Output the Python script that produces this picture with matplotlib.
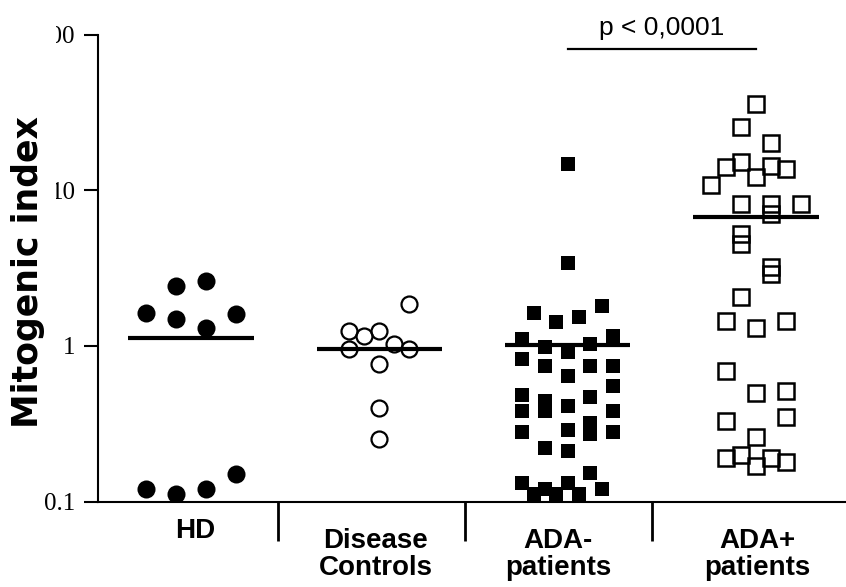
import numpy as np
import matplotlib
matplotlib.use('Agg')
import matplotlib.pyplot as plt
from matplotlib.ticker import NullLocator
from matplotlib.patches import Rectangle
import matplotlib.transforms as mtransforms

# group names
groups = ['HD', 'Disease\nControls', 'ADA-\npatients', 'ADA+\npatients']

# mitogenic index values, with column slot inside each group
hd_vals = [2.44, 2.59, 1.62, 1.48, 1.31, 1.59, 0.120, 0.111, 0.120, 0.151]
hd_cols = [-1, 1, -3, -1, 1, 3, -3, -1, 1, 3]

dc_vals = [1.86, 1.24, 1.15, 1.24, 0.96, 1.02, 0.95, 0.77, 0.40, 0.252]
dc_cols = [2, -2, -1, 0, -2, 1, 2, 0, 0, 0]

adaneg_vals = [14.7, 3.42, 1.62, 1.42, 1.54, 1.81, 1.11, 0.98, 0.91, 1.03, 1.15,
               0.82, 0.74, 0.64, 0.74, 0.74, 0.556, 0.48, 0.47, 0.38, 0.445, 0.38,
               0.41, 0.38, 0.32, 0.27, 0.28, 0.29, 0.28, 0.22, 0.21, 0.152, 0.131,
               0.12, 0.12, 0.131, 0.112, 0.112, 0.112]
adaneg_cols = [0, 0, -3, -1, 1, 3, -4, -2, 0, 2, 4,
               -4, -2, 0, 2, 4, 4, -4, 2, -4, -2, -2,
               0, 4, 2, 2, -4, 0, 4, -2, 0, 2, -4,
               3, -2, 0, -3, -1, 1]

adapos_vals = [35.6, 25.5, 20.2, 15.2, 14.1, 14.4, 13.7, 12.1, 10.8, 8.1, 8.1, 7.0,
               8.2, 5.2, 4.5, 3.2, 2.9, 2.05, 1.44, 1.31, 1.44, 0.69, 0.50, 0.515,
               0.33, 0.35, 0.26, 0.19, 0.20, 0.19, 0.17, 0.18]
adapos_cols = [0, -1, 1, -1, -2, 1, 2, 0, -3, -1, 1, 1,
               3, -1, -1, 1, 1, -1, -2, 0, 2, -2, 0, 2,
               -2, 2, 0, -2, -1, 1, 0, 2]

medians = [1.13, 0.956, 1.01, 6.7]
p_text = 'p < 0,0001'

# layout of the group labels (x in group units, top in axes fraction)
label_x = [0.02, 0.98, 1.95, 3.005]
label_top = [-0.036, -0.057, -0.057, -0.057]

fig = plt.figure(figsize=(8.46, 5.87), dpi=100)
ax = fig.add_axes([97.7/846, 1-501.5/587, 1-97.7/846, 467/587])

ax.set_yscale('log')
ax.set_ylim(0.1, 100)
ax.set_xlim(-0.4955, 3.478)

step = 0.0797
ax.plot(0 + np.array(hd_cols)*step, hd_vals, 'o', color='black', ms=13, mew=0)
ax.plot(1 + np.array(dc_cols)*step, dc_vals, 'o', mfc='none', mec='black', ms=11.5, mew=1.6)
ax.plot(2 + np.array(adaneg_cols)*0.060, adaneg_vals, 's', color='black', ms=9.4, mew=0)
ax.plot(3 + np.array(adapos_cols)*step, adapos_vals, 's', mfc='none', mec='black', ms=11.5, mew=1.8)

for i, m in enumerate(medians):
    ax.plot([i - 0.332, i + 0.332], [m, m], color='black', lw=3, solid_capstyle='butt', zorder=5)

# significance bar
ax.plot([2.0, 3.0], [80.4, 80.4], color='black', lw=1.6, clip_on=False)
trans = mtransforms.blended_transform_factory(ax.transData, ax.transAxes)
ax.text(2.5, 0.999, p_text, transform=trans, ha='center', va='baseline',
        fontsize=19, family='Liberation Sans', clip_on=False)

for s in ['top', 'right']:
    ax.spines[s].set_visible(False)
ax.spines['left'].set_linewidth(1.5)
ax.spines['bottom'].set_linewidth(1.5)

ax.set_yticks([0.1, 1, 10, 100])
ax.set_yticklabels(['0.1', '1', '10', '100'], family='Liberation Serif', fontsize=18)
ax.yaxis.set_minor_locator(NullLocator())
ax.tick_params(axis='y', length=10, width=1.5, pad=6)

ax.set_xticks([])
ax.set_xticks([0.462, 1.455, 2.448], minor=True)
ax.tick_params(axis='x', which='minor', length=28, width=2)
for name, lx, ly in zip(groups, label_x, label_top):
    ax.text(lx, ly, name, transform=trans, ha='center', va='top', fontsize=20,
            fontweight='bold', family='Liberation Sans', linespacing=1.05, clip_on=False)

# white strip that clips the left part of the top tick labels, as in the original
fig.patches.append(Rectangle((0, 1-460/587), 56/846, 460/587, transform=fig.transFigure,
                             facecolor='white', edgecolor='none', zorder=5))
fig.text(28/846, 1-272/587, 'Mitogenic index', rotation=90, ha='center', va='center',
         fontsize=25, fontweight='bold', family='DejaVu Sans', zorder=6)

fig.savefig('out.png', dpi=100)
